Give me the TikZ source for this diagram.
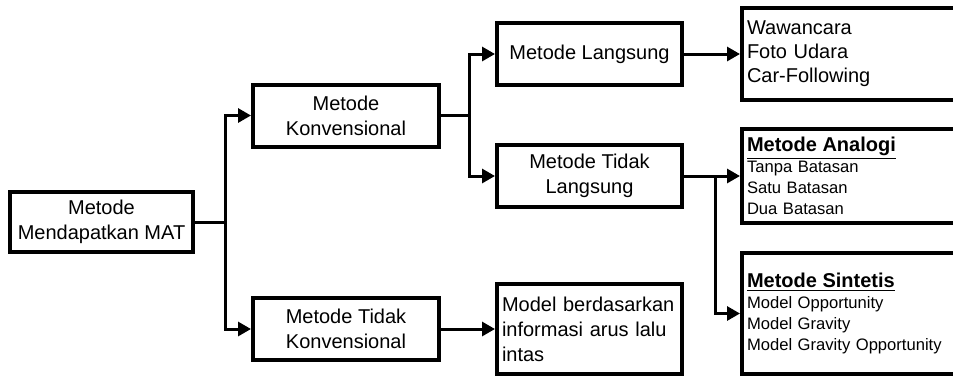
\documentclass[tikz,border=0pt]{standalone}
\usepackage{fontspec}
\setmainfont{Liberation Sans}
\usepackage{tikz}
\usetikzlibrary{arrows.meta,positioning}

\begin{document}
\begin{tikzpicture}[>={Triangle[length=6.5pt,width=7pt]},x=0.5pt,y=-0.5pt,
  line width=1.5pt,
  main node/.style={rectangle,draw,line width=2pt,minimum width=93pt,minimum height=31pt,
    align=center,inner sep=2pt,font=\fontsize{10}{12.5}\selectfont},
  list node/.style={rectangle,draw,line width=2pt,text width=110pt,align=left,inner sep=2.5pt,
    font=\fontsize{10}{12}\selectfont},
  small node/.style={list node,font=\fontsize{8.3}{10.5}\selectfont}]
  \useasboundingbox (0,0) rectangle (953,376);

  \node[main node,minimum width=91.5pt,minimum height=30pt] (mat) at (101.5,222)
    {Metode\\Mendapatkan MAT};
  \node[main node] (konv) [right=28pt of mat,yshift=53.25pt] {Metode\\Konvensional};
  \node[main node] (tkonv) [right=28pt of mat,yshift=-53.5pt] {Metode Tidak\\Konvensional};
  \node[main node,minimum width=92.5pt] (langsung) [right=27pt of konv,yshift=30.75pt]
    {Metode Langsung};
  \node[main node,minimum width=92.5pt] (tlangsung) [right=27pt of konv,yshift=-30.25pt]
    {Metode Tidak\\Langsung};
  \node[list node,text width=87.5pt,minimum height=45pt,
    font=\fontsize{10}{12.5}\selectfont] (arus) [right=27pt of tkonv]
    {Model berdasarkan\\informasi arus lalu\\intas};

  \node[list node,minimum height=46pt] (survei) [right=28pt of langsung]
    {Wawancara\\Foto Udara\\Car-Following};
  \node[small node,minimum height=47pt] (analogi) [right=28pt of tlangsung]
    {{\fontsize{10}{12}\selectfont\underline{\textbf{Metode Analogi}}}\\
     Tanpa Batasan\\Satu Batasan\\Dua Batasan};
  \node[small node,minimum height=60.5pt] (sintetis) [below=13pt of analogi]
    {{\fontsize{10}{12}\selectfont\underline{\textbf{Metode Sintetis}}}\\
     Model Opportunity\\Model Gravity\\Model Gravity Opportunity};

  % cabang utama
  \draw[->] (mat.east) -- ++(15pt,0) |- (konv.west);
  \draw[->] (mat.east) -- ++(15pt,0) |- (tkonv.west);
  \draw[->] (konv.east) -- ++(14pt,0) |- (langsung.west);
  \draw[->] (konv.east) -- ++(14pt,0) |- (tlangsung.west);
  \draw[->] (tkonv) -- (arus);

  \draw[->] (langsung) -- (survei);
  \draw[->] (tlangsung.east) -- (tlangsung.east -| analogi.west);
  \draw[->] (tlangsung.east) -- ++(15.5pt,0) |- (sintetis.west);
\end{tikzpicture}
\end{document}
